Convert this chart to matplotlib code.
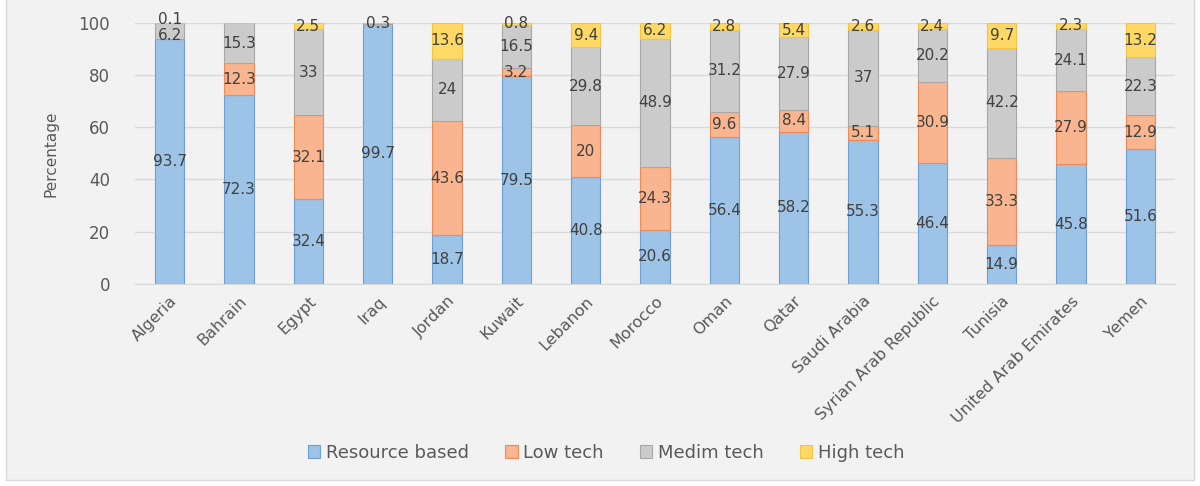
import matplotlib
matplotlib.use("Agg")
import matplotlib.pyplot as plt
from matplotlib.patches import Rectangle
import numpy as np

plt.rcParams['font.family'] = ['DejaVu Sans']

countries = ["Algeria", "Bahrain", "Egypt", "Iraq", "Jordan", "Kuwait", "Lebanon",
             "Morocco", "Oman", "Qatar", "Saudi Arabia", "Syrian Arab Republic",
             "Tunisia", "United Arab Emirates", "Yemen"]
resource = [93.7, 72.3, 32.4, 99.7, 18.7, 79.5, 40.8, 20.6, 56.4, 58.2, 55.3, 46.4, 14.9, 45.8, 51.6]
low_tech = [0, 12.3, 32.1, 0, 43.6, 3.2, 20, 24.3, 9.6, 8.4, 5.1, 30.9, 33.3, 27.9, 12.9]
med_tech = [6.2, 15.3, 33, 0.3, 24, 16.5, 29.8, 48.9, 31.2, 27.9, 37, 20.2, 42.2, 24.1, 22.3]
high_tech = [0.1, 0, 2.5, 0, 13.6, 0.8, 9.4, 6.2, 2.8, 5.4, 2.6, 2.4, 9.7, 2.3, 13.2]

series = [("Resource based", resource, "#9dc3e6", "#6f9fd4"),
          ("Low tech", low_tech, "#f8b590", "#ee8a55"),
          ("Medim tech", med_tech, "#cbcbcb", "#a8a8a8"),
          ("High tech", high_tech, "#ffd966", "#f5c242")]

fig = plt.figure(figsize=(12, 4.86), dpi=100)
fig.patch.set_facecolor("white")
fig.patches.append(Rectangle((0.005, 0.012), 0.99, 1.0, transform=fig.transFigure,
                             facecolor="#f2f2f2", edgecolor="#d9d9d9", lw=1, zorder=-10))

ax = fig.add_axes([0.1125, 0.416, 0.8667, 0.537])
ax.set_facecolor("#f2f2f2")
x = np.arange(len(countries))
bottom = np.zeros(len(countries))
for name, vals, fc, ec in series:
    vals = np.array(vals, dtype=float)
    ax.bar(x, vals, 0.42, bottom=bottom, color=fc, edgecolor=ec, linewidth=0.8,
           label=name, zorder=3)
    for xi, b, v in zip(x, bottom, vals):
        if v > 0:
            # Algeria's tiny top segments overlap, nudge them apart a little
            yy = b + v / 2
            if xi == 0 and name == "Medim tech":
                yy -= 1.5
            if xi == 0 and name == "High tech":
                yy += 1.5
            ax.text(xi, yy, "%g" % v, ha="center", va="center", fontsize=11,
                    color="#404040", zorder=4)
    bottom += vals

ax.set_xlim(-0.5, len(countries) - 0.5)
ax.set_ylim(0, 100)
ax.set_yticks([0, 20, 40, 60, 80, 100])
ax.yaxis.grid(True, color="#d9d9d9", linewidth=1, zorder=0)
ax.set_axisbelow(True)
for s in ["top", "right", "left"]:
    ax.spines[s].set_visible(False)
ax.spines["bottom"].set_color("#d9d9d9")
ax.tick_params(axis="both", length=0, colors="#595959", labelsize=12)
ax.tick_params(axis="y", pad=18)
ax.tick_params(axis="x", pad=7)
ax.set_xticks(x)
ax.set_xticklabels(countries, rotation=45, ha="right", rotation_mode="anchor", fontsize=11.5)
ax.set_ylabel("Percentage", fontsize=11, color="#595959", labelpad=14)

ax.legend(loc="center", bbox_to_anchor=(0.505, 0.068), bbox_transform=fig.transFigure,
          ncol=4, frameon=False, fontsize=13, handlelength=0.7, handleheight=0.7,
          handletextpad=0.3, columnspacing=2.0, labelcolor="#595959")

fig.savefig("out.png", dpi=100, facecolor=fig.get_facecolor())
